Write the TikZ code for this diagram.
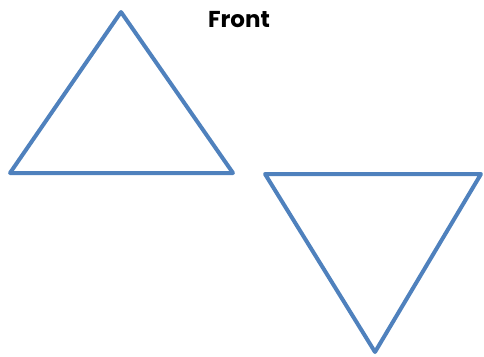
\documentclass[tikz,border=0pt]{standalone}
\usepackage{fontspec}
\setmainfont{Poppins}
\usepackage{tikz}
\definecolor{triblue}{RGB}{79,129,189}

\begin{document}
\begin{tikzpicture}[x=1pt, y=-1pt,
  tri/.style={draw=triblue, line width=4pt, line join=round, line cap=round},
  title/.style={font=\fontsize{23}{26}\selectfont\bfseries, inner sep=0pt}
]
\useasboundingbox (0,0) rectangle (484,356);

%--- Upright triangle ---
\coordinate (t1a) at (121,12);
\coordinate (t1b) at (10,173);
\coordinate (t1c) at (233,173);
\draw[tri] (t1a) -- (t1b) -- (t1c) -- cycle;

%--- Inverted triangle ---
\coordinate (t2a) at (265,174);
\coordinate (t2b) at (481,174);
\coordinate (t2c) at (375,352);
\draw[tri] (t2a) -- (t2b) -- (t2c) -- cycle;

%--- Label ---
\node[title] (front) at (239,20) {Front};

\end{tikzpicture}
\end{document}
